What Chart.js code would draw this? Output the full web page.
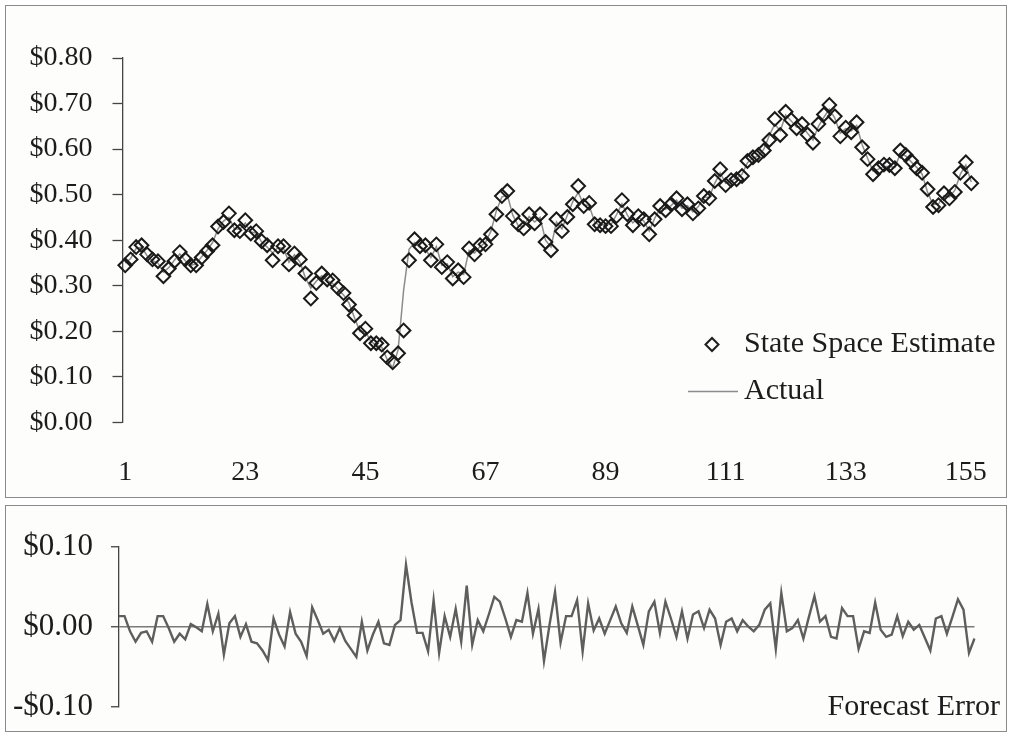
<!DOCTYPE html>
<html>
<head>
<meta charset="utf-8">
<title>State Space Estimate vs Actual</title>
<script src="https://cdn.jsdelivr.net/npm/chart.js@4.4.1/dist/chart.umd.min.js"></script>
<style>
  html, body { margin: 0; padding: 0; background: #ffffff; }
  body { width: 1009px; height: 736px; position: relative; overflow: hidden; }
  .panel { position: absolute; left: 5px; width: 1002px; border: 1.5px solid #8a8a8a; background: #fdfdfc; box-sizing: border-box; }
  #topPanel { top: 5px; height: 493px; }
  #bottomPanel { top: 505px; height: 227px; }
  canvas { position: absolute; left: 0; top: 0; }
</style>
</head>
<body>
<div class="panel" id="topPanel"><canvas id="priceChart" width="999" height="490"></canvas></div>
<div class="panel" id="bottomPanel"><canvas id="errorChart" width="999" height="224"></canvas></div>
<script>
// Period axis: labelled every 22 periods
const tickLabels = ['1', '23', '45', '67', '89', '111', '133', '155'];

// State space model estimate (dollars)
const stateSpaceEstimate = [
  0.345, 0.358, 0.385, 0.389, 0.369, 0.358, 0.354, 0.321, 0.338, 0.354,
  0.374, 0.358, 0.345, 0.345, 0.362, 0.376, 0.389, 0.430, 0.440, 0.459,
  0.422, 0.420, 0.444, 0.415, 0.420, 0.398, 0.389, 0.356, 0.387, 0.387,
  0.347, 0.371, 0.358, 0.327, 0.272, 0.306, 0.327, 0.314, 0.312, 0.295,
  0.284, 0.259, 0.235, 0.196, 0.206, 0.174, 0.174, 0.171, 0.143, 0.132,
  0.152, 0.202, 0.356, 0.402, 0.387, 0.389, 0.356, 0.391, 0.341, 0.352,
  0.316, 0.334, 0.319, 0.382, 0.369, 0.389, 0.391, 0.413, 0.457, 0.497,
  0.508, 0.453, 0.435, 0.426, 0.457, 0.437, 0.457, 0.396, 0.378, 0.446,
  0.420, 0.451, 0.479, 0.519, 0.475, 0.482, 0.435, 0.433, 0.431, 0.431,
  0.453, 0.488, 0.457, 0.433, 0.453, 0.446, 0.413, 0.446, 0.475, 0.466,
  0.479, 0.492, 0.468, 0.479, 0.459, 0.470, 0.497, 0.492, 0.530, 0.556,
  0.521, 0.532, 0.534, 0.541, 0.574, 0.582, 0.587, 0.597, 0.620, 0.666,
  0.631, 0.682, 0.664, 0.646, 0.655, 0.632, 0.614, 0.655, 0.676, 0.697,
  0.672, 0.628, 0.647, 0.637, 0.659, 0.604, 0.578, 0.545, 0.558, 0.566,
  0.565, 0.558, 0.597, 0.587, 0.574, 0.558, 0.548, 0.512, 0.473, 0.477,
  0.503, 0.492, 0.506, 0.548, 0.571, 0.525
];

// Actual observed price (dollars)
const actualPrice = [
  0.350, 0.360, 0.382, 0.385, 0.366, 0.355, 0.350, 0.330, 0.340, 0.356,
  0.370, 0.355, 0.345, 0.348, 0.364, 0.378, 0.395, 0.425, 0.442, 0.450,
  0.425, 0.424, 0.438, 0.418, 0.416, 0.396, 0.385, 0.372, 0.384, 0.382,
  0.352, 0.368, 0.352, 0.318, 0.295, 0.310, 0.322, 0.312, 0.305, 0.292,
  0.280, 0.262, 0.230, 0.200, 0.200, 0.178, 0.170, 0.165, 0.138, 0.120,
  0.160, 0.290, 0.380, 0.395, 0.384, 0.380, 0.362, 0.386, 0.345, 0.348,
  0.320, 0.330, 0.325, 0.378, 0.372, 0.386, 0.395, 0.420, 0.465, 0.495,
  0.500, 0.455, 0.432, 0.430, 0.452, 0.440, 0.450, 0.400, 0.385, 0.440,
  0.425, 0.455, 0.485, 0.505, 0.478, 0.476, 0.440, 0.432, 0.436, 0.434,
  0.456, 0.480, 0.455, 0.438, 0.450, 0.442, 0.420, 0.448, 0.470, 0.468,
  0.476, 0.488, 0.470, 0.476, 0.462, 0.474, 0.494, 0.495, 0.525, 0.548,
  0.525, 0.530, 0.536, 0.545, 0.570, 0.580, 0.585, 0.600, 0.630, 0.655,
  0.640, 0.675, 0.662, 0.648, 0.650, 0.635, 0.620, 0.650, 0.670, 0.688,
  0.668, 0.635, 0.645, 0.640, 0.652, 0.610, 0.580, 0.552, 0.556, 0.562,
  0.562, 0.560, 0.590, 0.585, 0.572, 0.560, 0.545, 0.505, 0.478, 0.480,
  0.498, 0.495, 0.510, 0.545, 0.565, 0.528
];

// One-step forecast error (dollars)
const forecastError = [
  0.013, 0.013, -0.006, -0.019, -0.008, -0.006, -0.019, 0.013, 0.013, -0.002,
  -0.019, -0.009, -0.016, 0.003, -0.001, -0.006, 0.028, -0.006, 0.016, -0.035,
  0.004, 0.013, -0.013, 0.003, -0.019, -0.021, -0.030, -0.042, 0.010, -0.010,
  -0.025, 0.018, -0.009, -0.019, -0.037, 0.024, 0.008, -0.009, -0.004, -0.018,
  -0.002, -0.018, -0.028, -0.038, 0.006, -0.030, -0.010, 0.006, -0.021, -0.023,
  0.002, 0.008, 0.077, 0.030, -0.008, -0.008, -0.031, 0.033, -0.033, 0.013,
  -0.013, 0.022, -0.019, 0.051, -0.023, 0.008, -0.006, 0.015, 0.037, 0.031,
  0.010, -0.013, 0.008, 0.006, 0.042, -0.009, 0.022, -0.043, 0.002, 0.043,
  -0.020, 0.013, 0.013, 0.033, -0.031, 0.029, -0.005, 0.010, -0.009, 0.008,
  0.025, 0.004, -0.008, 0.025, 0.001, -0.023, 0.019, 0.031, -0.008, 0.031,
  0.010, -0.013, 0.019, -0.015, 0.015, 0.019, -0.002, 0.021, 0.010, -0.023,
  0.006, 0.010, -0.006, 0.008, 0.000, -0.006, 0.002, 0.021, 0.029, -0.028,
  0.042, -0.006, -0.002, 0.008, -0.015, 0.012, 0.038, 0.006, 0.013, -0.013,
  -0.015, 0.023, 0.013, 0.013, -0.028, -0.006, -0.008, 0.030, -0.004, -0.013,
  -0.010, 0.013, -0.012, 0.006, -0.004, 0.002, -0.014, -0.030, 0.010, 0.013,
  -0.009, 0.012, 0.034, 0.021, -0.033, -0.015
];

const periods = stateSpaceEstimate.map((_, i) => String(i + 1));

const SERIF = '"Liberation Serif", "Times New Roman", serif';
const INK = '#1c1c1c';
const money = v => (v < 0 ? '-' : '') + '$' + Math.abs(v).toFixed(2);

Chart.defaults.font.family = SERIF;
Chart.defaults.color = INK;

// Legend drawn inside the lower-right of the price plot
const insetLegend = {
  id: 'insetLegend',
  afterDatasetsDraw(chart) {
    const { ctx, chartArea } = chart;
    const textX = chartArea.right - 230;
    const row1 = chartArea.bottom - 78;
    const row2 = chartArea.bottom - 31;
    ctx.save();
    // diamond marker sample
    const mx = chartArea.right - 262, r = 6.5;
    ctx.beginPath();
    ctx.moveTo(mx - r, row1); ctx.lineTo(mx, row1 - r);
    ctx.lineTo(mx + r, row1); ctx.lineTo(mx, row1 + r); ctx.closePath();
    ctx.lineWidth = 2; ctx.strokeStyle = '#1e1e1e'; ctx.stroke();
    // line sample
    ctx.beginPath();
    ctx.moveTo(chartArea.right - 286, row2); ctx.lineTo(chartArea.right - 236, row2);
    ctx.lineWidth = 1.5; ctx.strokeStyle = '#8c8c8c'; ctx.stroke();
    ctx.fillStyle = INK;
    ctx.font = '30px ' + SERIF;
    ctx.textAlign = 'left'; ctx.textBaseline = 'middle';
    ctx.fillText('State Space Estimate', textX, row1);
    ctx.fillText('Actual', textX, row2);
    ctx.restore();
  }
};

new Chart(document.getElementById('priceChart'), {
  type: 'line',
  data: {
    labels: periods,
    datasets: [
      {
        label: 'State Space Estimate',
        data: stateSpaceEstimate,
        showLine: false,
        pointStyle: 'rectRot',
        pointRadius: 6.8,
        pointBorderWidth: 2,
        pointBorderColor: '#1a1a1a',
        pointBackgroundColor: 'rgba(0,0,0,0)'
      },
      {
        label: 'Actual',
        data: actualPrice,
        borderColor: '#8c8c8c',
        borderWidth: 1.5,
        pointRadius: 0,
        tension: 0
      }
    ]
  },
  options: {
    responsive: false,
    animation: false,
    devicePixelRatio: 1,
    layout: { padding: { top: 52, right: 31, bottom: 0, left: 0 } },
    plugins: { legend: { display: false }, tooltip: { enabled: false } },
    scales: {
      x: {
        type: 'category',
        offset: true,
        grid: { display: false },
        border: { display: false },
        ticks: {
          autoSkip: false,
          maxRotation: 0,
          padding: 25,
          font: { size: 28 },
          color: INK,
          callback: function (value) {
            const lab = this.getLabelForValue(value);
            return tickLabels.includes(lab) ? lab : '';
          }
        },
        afterFit: s => { s.height = 73.5; }
      },
      y: {
        min: 0,
        max: 0.8,
        grid: { drawOnChartArea: false, drawTicks: true, tickLength: 10, tickColor: '#444', tickWidth: 1.3 },
        border: { display: true, color: '#444', width: 1.3 },
        ticks: { stepSize: 0.1, padding: 20, font: { size: 28 }, color: INK, callback: v => money(v) },
        afterFit: s => { s.width = 116.5; }
      }
    }
  },
  plugins: [insetLegend]
});

// Caption for the error panel
const errorCaption = {
  id: 'errorCaption',
  afterDraw(chart) {
    const { ctx, width, chartArea } = chart;
    ctx.save();
    ctx.fillStyle = INK;
    ctx.font = '30px ' + SERIF;
    ctx.textAlign = 'right'; ctx.textBaseline = 'middle';
    ctx.fillText('Forecast Error', width - 5, chartArea.bottom + 1);
    ctx.restore();
  }
};

new Chart(document.getElementById('errorChart'), {
  type: 'line',
  data: {
    labels: periods,
    datasets: [{
      label: 'Forecast Error',
      data: forecastError,
      borderColor: '#5e5e5e',
      borderWidth: 2.4,
      pointRadius: 0,
      tension: 0
    }]
  },
  options: {
    responsive: false,
    animation: false,
    devicePixelRatio: 1,
    layout: { padding: { top: 40.5, right: 30.5, bottom: 0, left: 0 } },
    plugins: { legend: { display: false }, tooltip: { enabled: false } },
    scales: {
      x: {
        type: 'category',
        offset: false,
        grid: { display: false },
        border: { display: false },
        ticks: { display: false },
        afterFit: s => { s.height = 23.5; }
      },
      y: {
        min: -0.1,
        max: 0.1,
        grid: {
          drawOnChartArea: true,
          drawTicks: true,
          tickLength: 8,
          tickColor: '#444',
          tickWidth: 1.3,
          lineWidth: 1.5,
          color: c => (c.tick && c.tick.value === 0 ? '#7a7a7a' : 'rgba(0,0,0,0)')
        },
        border: { display: true, color: '#444', width: 1.3 },
        ticks: { stepSize: 0.1, padding: 18, font: { size: 31 }, color: INK, callback: v => money(Math.round(v * 100) / 100) },
        afterFit: s => {
          s.width = 113;
          // keep the label overhang inside the reserved margins
          s.paddingTop = 0;
          s.paddingBottom = 0;
        }
      }
    }
  },
  plugins: [errorCaption]
});
</script>
</body>
</html>
